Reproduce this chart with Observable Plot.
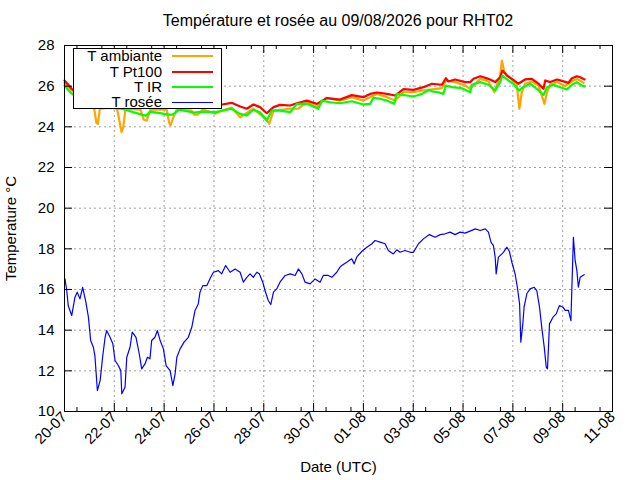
<!DOCTYPE html>
<html>
<head>
<meta charset="utf-8">
<script src="https://cdn.jsdelivr.net/npm/d3@7"></script>
<script src="https://cdn.jsdelivr.net/npm/@observablehq/plot@0.6"></script>
<style>
  body { margin: 0; background: white; }
  #wrap { position: relative; width: 640px; height: 480px; font-family: "Liberation Sans", Arial, sans-serif; }
  #title { box-sizing: border-box; height: 32px; padding-top: 11px; padding-left: 36px; line-height: 20px; font-size: 16px; text-align: center; color: #000; }
  #chart svg { display: block; }
  .legbox { position: absolute; box-sizing: border-box; left: 73px; top: 48px; width: 149px; height: 61px; border: 1px solid #000; background: #fff; }
  .legtxt { position: absolute; left: 73px; width: 89px; height: 14px; line-height: 14px; font-size: 15px; text-align: right; color: #000; white-space: nowrap; }
  .legsw { position: absolute; left: 172px; width: 41px; }
</style>
</head>
<body>
<div id="wrap">
  <div id="title"></div>
  <div id="chart"></div>
</div>
<script>
// ---- data (day offset from 2026-07-20 00:00 UTC, °C) ----
const titleText = "Température et rosée au 09/08/2026 pour RHT02";
const seriesNames = ["T ambiante", "T Pt100", "T IR", "T rosée"];
const seriesColors = ["#ffa500", "#ff0000", "#00ff00", "#0000ff"];
const xTickLabels = ["2026-07-20","2026-07-22","2026-07-24","2026-07-26","2026-07-28","2026-07-30",
                     "2026-08-01","2026-08-03","2026-08-05","2026-08-07","2026-08-09","2026-08-11"];
const yTicks = [10, 12, 14, 16, 18, 20, 22, 24, 26, 28];

const tAmbiante = [
  [0,26.15],[0.29,25.80],[0.7,25.3],[1.18,25.0],[1.28,24.2],[1.34,24.15],[1.42,24.9],[2.10,24.95],[2.22,24.2],[2.29,23.74],
  [2.36,24.0],[2.45,24.9],[3.05,24.85],[3.18,24.35],[3.30,24.31],[3.45,24.85],[4.10,24.85],[4.20,24.2],[4.26,24.07],[4.35,24.4],
  [4.50,24.85],[5.10,24.8],[5.20,24.6],[5.35,24.6],[5.55,24.85],[6.05,24.64],[6.33,24.8],[6.71,24.95],[7.05,24.47],[7.58,24.89],
  [8.12,24.34],[8.22,24.15],[8.39,24.80],[9.06,24.89],[9.39,24.89],[9.73,25.21],[10.13,24.97],[10.50,25.43],[11.06,25.29],[11.53,25.46],
  [12.00,25.29],[12.54,25.62],[12.94,25.46],[13.27,25.29],[13.61,25.70],[14.01,25.70],[14.41,25.79],[14.48,25.79],[15.15,25.90],[15.31,26.28],
  [15.68,26.20],[16.08,26.03],[16.29,25.87],[16.69,26.36],[17.02,26.23],[17.26,25.70],[17.49,26.52],[17.56,27.26],[17.66,26.69],[17.89,26.39],
  [18.15,26.12],[18.26,24.89],[18.36,25.70],[18.49,26.12],[18.76,26.23],[19.03,26.03],[19.27,25.13],[19.37,25.70],[19.50,26.07],[19.77,26.20],
  [20.10,26.00],[20.37,26.23],[20.57,26.36],[20.84,26.16]
];
const tPt100 = [
  [0,26.28],[0.29,25.87],[0.7,25.5],[1.3,25.3],[2.3,25.2],[3.3,25.1],[4.3,25.1],[5.3,25.1],[5.96,24.97],[6.33,25.1],
  [6.71,25.18],[7.05,25.0],[7.32,24.89],[7.58,25.10],[7.85,24.97],[8.12,24.67],[8.39,24.97],[8.65,25.08],[9.06,25.05],[9.33,25.16],
  [9.73,25.29],[10.13,25.13],[10.53,25.41],[11.06,25.34],[11.53,25.56],[12.00,25.46],[12.27,25.62],[12.54,25.69],[12.94,25.62],[13.27,25.54],
  [13.61,25.85],[14.01,25.82],[14.41,25.95],[14.75,26.12],[15.15,26.07],[15.31,26.39],[15.41,26.23],[15.68,26.33],[16.08,26.20],[16.29,26.20],
  [16.42,26.36],[16.69,26.49],[17.02,26.36],[17.29,26.20],[17.49,26.44],[17.58,26.77],[17.76,26.52],[17.96,26.36],[18.22,26.12],[18.36,26.23],
  [18.49,26.33],[18.76,26.36],[19.03,26.12],[19.23,25.87],[19.30,26.28],[19.50,26.20],[19.77,26.33],[19.97,26.26],[20.23,26.16],[20.37,26.39],
  [20.57,26.49],[20.70,26.44],[20.88,26.33]
];
const tIR = [
  [0,26.03],[0.23,25.70],[0.6,25.3],[1.31,24.95],[2.27,24.9],[3.1,24.6],[3.27,24.55],[3.45,24.75],[4.2,24.6],[4.35,24.6],
  [4.6,24.85],[5.2,24.7],[5.55,24.75],[6.05,24.72],[6.71,24.89],[7.05,24.64],[7.32,24.56],[7.58,24.84],[7.85,24.72],[8.12,24.31],
  [8.32,24.80],[8.65,24.80],[9.06,24.72],[9.33,25.13],[9.73,25.13],[10.19,24.89],[10.33,25.29],[10.66,25.21],[11.06,25.16],[11.53,25.26],
  [12.00,25.10],[12.27,25.13],[12.40,25.43],[12.67,25.38],[12.94,25.29],[13.23,25.13],[13.34,25.62],[13.74,25.54],[14.01,25.49],[14.35,25.62],
  [14.65,25.82],[14.75,25.74],[15.01,25.70],[15.21,25.62],[15.31,26.03],[15.55,25.95],[15.95,25.90],[16.29,25.70],[16.35,26.07],[16.69,26.20],
  [17.02,26.07],[17.29,25.79],[17.49,26.20],[17.58,26.52],[17.82,26.28],[18.02,26.12],[18.25,25.79],[18.42,25.95],[18.69,26.12],[18.96,25.87],
  [19.23,25.57],[19.37,25.95],[19.63,26.07],[19.90,25.95],[20.17,25.84],[20.37,26.07],[20.57,26.20],[20.77,26.03],[20.88,26.00]
];
const tRosee = [
  [0.02,16.52],[0.09,15.95],[0.15,15.20],[0.29,14.72],[0.42,15.62],[0.51,15.87],[0.62,15.54],[0.73,16.11],[0.86,15.37],[0.96,14.64],
  [1.05,13.49],[1.16,13.16],[1.22,12.75],[1.32,11.03],[1.43,11.52],[1.53,12.67],[1.63,13.65],[1.69,13.98],[1.83,13.65],[1.94,13.33],
  [2.03,12.51],[2.16,12.26],[2.26,12.01],[2.30,10.87],[2.43,11.19],[2.50,12.67],[2.63,13.16],[2.72,13.90],[2.87,13.65],[3.00,12.84],
  [3.10,12.10],[3.23,12.34],[3.33,12.67],[3.43,12.59],[3.50,13.49],[3.63,13.65],[3.73,13.98],[3.84,13.49],[3.97,13.08],[4.08,12.26],
  [4.24,12.01],[4.35,11.27],[4.44,11.85],[4.51,12.67],[4.64,13.08],[4.80,13.41],[4.97,13.65],[5.11,14.14],[5.24,14.97],[5.37,15.29],
  [5.44,15.87],[5.55,16.19],[5.71,16.19],[5.87,16.60],[5.98,16.85],[6.18,16.93],[6.31,16.77],[6.47,17.18],[6.65,16.85],[6.85,17.01],
  [7.05,16.85],[7.18,16.36],[7.32,16.60],[7.45,16.77],[7.58,16.60],[7.72,16.85],[7.82,16.77],[7.96,16.36],[8.05,15.95],[8.18,15.46],
  [8.28,15.26],[8.39,15.87],[8.52,16.03],[8.65,16.36],[8.86,16.69],[9.06,16.77],[9.26,16.69],[9.39,17.01],[9.53,16.77],[9.66,16.36],
  [9.86,16.28],[10.06,16.52],[10.26,16.36],[10.39,16.69],[10.59,16.69],[10.73,16.60],[10.93,16.85],[11.06,17.10],[11.13,17.18],[11.33,17.34],
  [11.53,17.51],[11.63,17.26],[11.73,17.59],[11.94,17.88],[12.14,18.08],[12.34,18.25],[12.47,18.41],[12.67,18.33],[12.87,18.25],[13.00,17.92],
  [13.20,17.75],[13.34,17.95],[13.47,17.83],[13.67,17.92],[13.88,17.83],[14.01,17.83],[14.21,18.25],[14.41,18.49],[14.65,18.70],[14.88,18.57],
  [15.08,18.70],[15.28,18.74],[15.48,18.82],[15.68,18.70],[15.88,18.82],[16.08,18.77],[16.28,18.87],[16.49,18.98],[16.69,18.90],[16.89,18.98],
  [17.02,18.82],[17.12,18.33],[17.22,18.16],[17.29,17.59],[17.33,16.77],[17.42,17.59],[17.56,17.75],[17.62,17.83],[17.76,18.08],[17.86,17.88],
  [17.96,17.34],[18.09,16.77],[18.18,16.11],[18.27,15.29],[18.32,13.41],[18.40,14.31],[18.45,15.13],[18.56,15.79],[18.69,16.03],[18.86,16.11],
  [18.96,15.95],[19.07,15.13],[19.16,14.14],[19.26,13.16],[19.34,12.18],[19.39,12.10],[19.43,13.16],[19.47,14.31],[19.61,14.64],[19.74,14.80],
  [19.87,15.21],[20.01,15.13],[20.10,14.97],[20.23,14.97],[20.33,14.47],[20.37,16.11],[20.43,18.57],[20.50,17.43],[20.57,16.93],[20.63,16.11],
  [20.70,16.60],[20.86,16.73]
];

// ---- build ----
const t0 = Date.UTC(2026, 6, 20);
const toDate = d => new Date(t0 + d * 864e5);
const rows = (arr) => arr.map(([d, v]) => ({date: toDate(d), value: v}));
const parse = d3.utcParse("%Y-%m-%d");
const xTicks = xTickLabels.map(parse);
const xDomain = [xTicks[0], xTicks[xTicks.length - 1]];
const minorTicks = d3.utcHour.every(12).range(xDomain[0], xDomain[1]).filter(d => d.getUTCHours() === 12);

const W = 640, H = 448, ML = 64, MR = 28, MT = 13, MB = 69;
const innerW = W - ML - MR, innerH = H - MT - MB;
const gridStyle = {stroke: "#a0a0a0", strokeOpacity: 1, strokeDasharray: "2,3", strokeWidth: 1};

document.getElementById("title").textContent = titleText;

const chart = Plot.plot({
  width: W, height: H,
  marginLeft: ML, marginRight: MR, marginTop: MT, marginBottom: MB,
  x: {type: "utc", domain: xDomain},
  y: {domain: [10, 28]},
  style: {fontFamily: '"Liberation Sans", Arial, sans-serif', fontSize: "15px", color: "#000", background: "#fff"},
  marks: [
    Plot.gridX(xTicks, {...gridStyle}),
    Plot.gridY(yTicks, {...gridStyle}),
    Plot.lineY(rows(tAmbiante), {x: "date", y: "value", stroke: seriesColors[0], strokeWidth: 2.2}),
    Plot.lineY(rows(tPt100), {x: "date", y: "value", stroke: seriesColors[1], strokeWidth: 2.2}),
    Plot.lineY(rows(tIR), {x: "date", y: "value", stroke: seriesColors[2], strokeWidth: 2.2}),
    Plot.lineY(rows(tRosee), {x: "date", y: "value", stroke: seriesColors[3], strokeWidth: 1.2}),
    Plot.frame({stroke: "#000", strokeWidth: 1}),
    // inward ticks
    Plot.tickX(xTicks, {x: d => d, stroke: "#000", insetTop: innerH - 8}),
    Plot.tickX(xTicks, {x: d => d, stroke: "#000", insetBottom: innerH - 8}),
    Plot.tickX(minorTicks, {x: d => d, stroke: "#000", insetTop: innerH - 4}),
    Plot.tickX(minorTicks, {x: d => d, stroke: "#000", insetBottom: innerH - 4}),
    Plot.tickY(yTicks, {y: d => d, stroke: "#000", insetRight: innerW - 8}),
    Plot.tickY(yTicks, {y: d => d, stroke: "#000", insetLeft: innerW - 8}),
    // labels
    Plot.axisX(xTicks, {tickSize: 0, tickPadding: 3, tickRotate: -45, tickFormat: d3.utcFormat("%d-%m"),
      label: "Date (UTC)", labelAnchor: "center", labelArrow: "none", labelOffset: 60}),
    Plot.axisY(yTicks, {tickSize: 0, tickPadding: 10,
      label: "Temperature °C", labelAnchor: "center", labelArrow: "none", labelOffset: 59})
  ]
});
document.getElementById("chart").appendChild(chart);

// legend overlay (inside plot area, like the original)
const wrap = document.getElementById("wrap");
const box = document.createElement("div");
box.className = "legbox";
wrap.appendChild(box);
const centers = [56, 71.5, 87, 102.3];
seriesNames.forEach((name, i) => {
  const t = document.createElement("div");
  t.className = "legtxt";
  t.style.top = (centers[i] - 6.9) + "px";
  t.textContent = name;
  wrap.appendChild(t);
  const s = document.createElement("div");
  s.className = "legsw";
  const h = i === 3 ? 1 : 2;
  s.style.top = (centers[i] - h / 2) + "px";
  s.style.height = h + "px";
  s.style.background = seriesColors[i];
  wrap.appendChild(s);
});
</script>
</body>
</html>
